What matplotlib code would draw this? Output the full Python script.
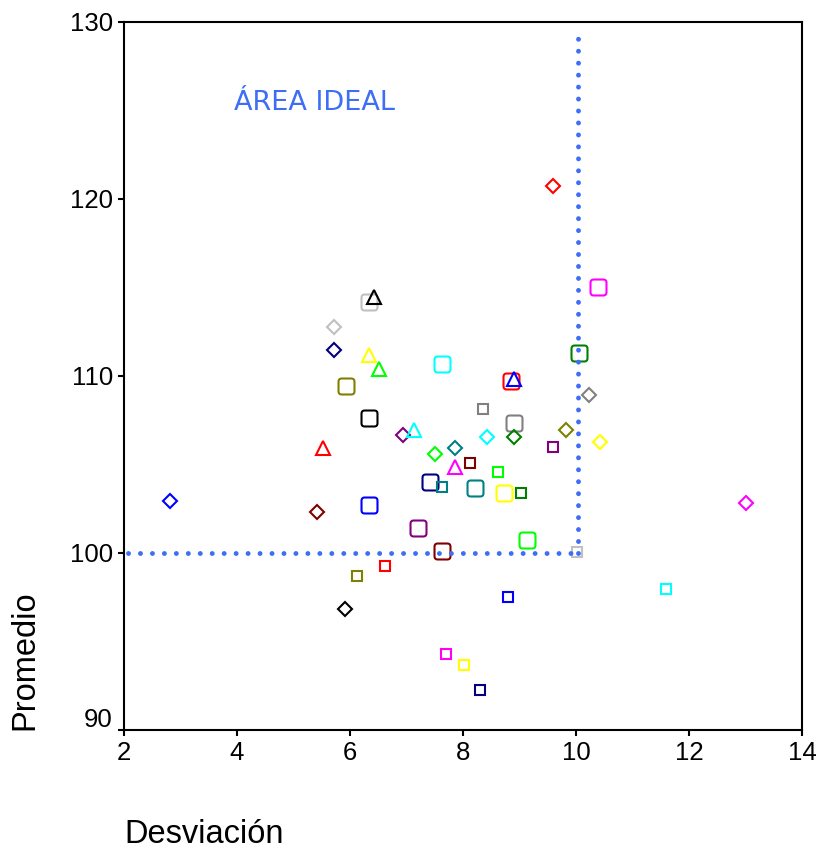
import matplotlib
matplotlib.use("Agg")
import matplotlib.pyplot as plt
from matplotlib.path import Path
from matplotlib.transforms import ScaledTranslation

# large rounded squares
big_x = [6.34, 5.93, 7.62, 8.84, 10.05, 6.34, 8.91, 10.39, 7.42, 8.22, 8.72, 6.34, 7.21, 9.14, 7.62]
big_y = [114.2, 109.45, 110.65, 109.72, 111.3, 107.63, 107.34, 115.05, 104.02, 103.67, 103.39, 102.72, 101.4, 100.73, 100.1]
big_c = ["#c0c0c0", "#808000", "#00ffff", "#ff0000", "#008000", "#000000", "#808080", "#ff00ff",
         "#000080", "#008080", "#ffff00", "#0000ff", "#800080", "#00ff00", "#800000"]

# small squares
sq_x = [8.35, 9.6, 8.13, 8.62, 7.62, 9.03, 10.02, 6.62, 6.12, 8.8, 11.6, 7.7, 8.02, 8.3]
sq_y = [108.14, 106.0, 105.08, 104.55, 103.75, 103.4, 100.05, 99.25, 98.7, 97.5, 97.95, 94.3, 93.7, 92.25]
sq_c = ["#808080", "#800080", "#800000", "#00ff00", "#008080", "#008000", "#c0c0c0", "#ff0000",
        "#808000", "#0000ff", "#00ffff", "#ff00ff", "#ffff00", "#000080"]

# diamonds
dm_x = [2.82, 5.41, 5.91, 5.72, 5.72, 9.6, 10.22, 6.93, 8.43, 8.91, 9.83, 10.42, 7.51, 7.85, 13.01]
dm_y = [102.95, 102.33, 96.85, 112.77, 111.47, 120.75, 108.93, 106.67, 106.55, 106.55, 106.95, 106.27, 105.6, 105.93, 102.84]
dm_c = ["#0000ff", "#800000", "#000000", "#c0c0c0", "#000080", "#ff0000", "#808080", "#800080",
        "#00ffff", "#008000", "#808000", "#ffff00", "#00ff00", "#008080", "#ff00ff"]

# triangles
tr_x = [5.53, 6.43, 6.34, 6.52, 8.91, 7.14, 7.85]
tr_y = [105.93, 114.45, 111.2, 110.4, 109.85, 106.95, 104.86]
tr_c = ["#ff0000", "#000000", "#ffff00", "#00ff00", "#0000ff", "#00ffff", "#ff00ff"]

x_ticks = [2, 4, 6, 8, 10, 12, 14]
y_ticks = [90, 100, 110, 120, 130]
ref_x = 10.04
ref_y = 100
line_color = "#3d6ef5"

# rounded square marker
r = 0.4
verts = [(-1 + r, -1), (1 - r, -1), (1, -1), (1, -1 + r), (1, 1 - r), (1, 1), (1 - r, 1),
         (-1 + r, 1), (-1, 1), (-1, 1 - r), (-1, -1 + r), (-1, -1), (-1 + r, -1), (-1 + r, -1)]
codes = [Path.MOVETO, Path.LINETO, Path.CURVE3, Path.CURVE3, Path.LINETO, Path.CURVE3, Path.CURVE3,
         Path.LINETO, Path.CURVE3, Path.CURVE3, Path.LINETO, Path.CURVE3, Path.CURVE3, Path.CLOSEPOLY]
rounded = Path(verts, codes)

plt.rcParams['font.family'] = ['Liberation Sans', 'DejaVu Sans']

fig = plt.figure(figsize=(8.21, 8.52), dpi=100)
ax = fig.add_axes([0.151, 0.1432, 0.826, 0.831])

lw = 1.5
for x, y, c in zip(big_x, big_y, big_c):
    ax.plot(x, y, marker=rounded, ms=11.5, mfc="none", mec=c, mew=lw, ls="none")
for x, y, c in zip(sq_x, sq_y, sq_c):
    ax.plot(x, y, marker="s", ms=6.8, mfc="none", mec=c, mew=lw, ls="none")
for x, y, c in zip(dm_x, dm_y, dm_c):
    ax.plot(x, y, marker="D", ms=7.5, mfc="none", mec=c, mew=lw, ls="none")
for x, y, c in zip(tr_x, tr_y, tr_c):
    ax.plot(x, y, marker="^", ms=10.5, mfc="none", mec=c, mew=lw, ls="none")

dots = dict(color=line_color, lw=3.5, ls=(0, (0.01, 2.45)), dash_capstyle="round", zorder=5)
ax.plot([2.08, ref_x], [ref_y, ref_y], **dots)
ax.plot([ref_x, ref_x], [ref_y, 129.2], **dots)

ax.text(5.38, 125.45, "ÁREA IDEAL", color=line_color, fontsize=19.5, family="DejaVu Sans",
        ha="center", va="center")

ax.set_xlim(2, 14)
ax.set_ylim(90, 130)
ax.set_xticks(x_ticks)
ax.set_yticks(y_ticks)
ax.tick_params(labelsize=18.5, width=1.5, length=4.5, direction="out")
for s in ax.spines.values():
    s.set_linewidth(1.5)

# lift the lowest y label off the corner
lab = ax.get_yticklabels()[0]
lab.set_transform(lab.get_transform() + ScaledTranslation(0, 0.12, fig.dpi_scale_trans))

ax.set_xlabel("Desviación", fontsize=23.5, loc="left", labelpad=39)
ax.set_ylabel("Promedio", fontsize=23.5, loc="bottom", labelpad=21)

fig.savefig("out.png", dpi=100)
